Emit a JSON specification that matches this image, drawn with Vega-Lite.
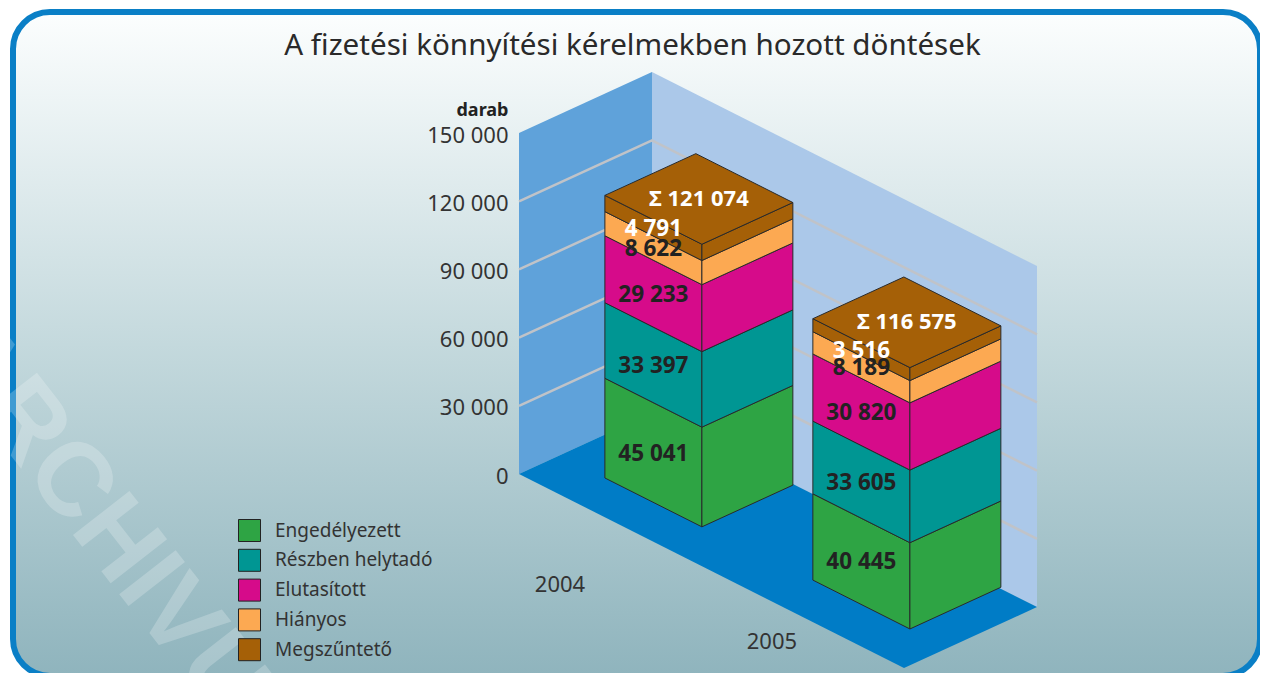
{
"$schema":"https://vega.github.io/schema/vega-lite/v6.json",
"width":1247,"height":664,"autosize":"none",
"padding":{"left":13,"top":12,"right":0,"bottom":0},
"background":"white",
"view":{"fill":{"gradient":"linear","x1":0,"y1":0,"x2":0,"y2":1,"stops":[{"offset":0,"color":"#fcfefe"},{"offset":0.5,"color":"#c4d9dd"},{"offset":1,"color":"#8fb4bd"}]},"stroke":"#0a7fc6","strokeWidth":6,"cornerRadius":37},
"title":{"text":"A fizetési könnyítési kérelmekben hozott döntések","font":"Noto Sans","fontSize":29.6,"fontWeight":"normal","color":"#2a2a2a","anchor":"middle","frame":"group","offset":-50,"dx":-4},
"datasets":{
"segments":[
{"year":2004,"status":"Engedélyezett","value":45041,"total":121074},
{"year":2004,"status":"Részben helytadó","value":33397,"total":121074},
{"year":2004,"status":"Elutasított","value":29233,"total":121074},
{"year":2004,"status":"Hiányos","value":8622,"total":121074},
{"year":2004,"status":"Megszűntető","value":4791,"total":121074},
{"year":2005,"status":"Engedélyezett","value":40445,"total":116575},
{"year":2005,"status":"Részben helytadó","value":33605,"total":116575},
{"year":2005,"status":"Elutasított","value":30820,"total":116575},
{"year":2005,"status":"Hiányos","value":8189,"total":116575},
{"year":2005,"status":"Megszűntető","value":3516,"total":116575}],
"panels":[{"panel":"left"},{"panel":"back"},{"panel":"floor"}],
"ticks":[{"tick":30000},{"tick":60000},{"tick":90000},{"tick":120000}],
"stamp":[{"word":"ARCHIVUM"}]
},
"data":{"name":"segments"},
"transform":[
{"calculate":"indexof(['Engedélyezett','Részben helytadó','Elutasított','Hiányos','Megszűntető'],datum.status)","as":"rank"},
{"calculate":"(datum.value*0.9+2730)*(datum.year==2004?1.014:0.97)","as":"shown"},
{"stack":"shown","groupby":["year"],"sort":[{"field":"rank","order":"ascending"}],"as":["v0","v1"]},
{"calculate":"datum.year==2004?0.117:0.65","as":"d0"},
{"calculate":"datum.year==2004?0.307:0.328","as":"w0"}
],
"encoding":{
"x":{"field":"px","type":"quantitative","axis":null,"scale":{"domain":[13,1260],"nice":false,"zero":false}},
"y":{"field":"py","type":"quantitative","scale":{"domain":[203280,-88880],"nice":false,"zero":false,"reverse":false,"range":[0,664]},
"axis":{"title":"darab","titleAngle":0,"titleAlign":"right","titleBaseline":"middle","titleX":0,"titleY":98,"titleFont":"Noto Sans","titleFontSize":18,"titleFontWeight":"bold","titleColor":"#222",
"values":[0,30000,60000,90000,120000,150000],"offset":-495,"domain":false,"ticks":false,"grid":false,"labelPadding":0,"labelOffset":2,"labelFont":"Noto Sans","labelFontSize":22,"labelColor":"#333","labelExpr":"replace(format(datum.value,','),',',' ')"}}
},
"layer":[
{"data":{"name":"panels"},"transform":[
{"calculate":"[0,1,2,3,4]","as":"corner"},{"flatten":["corner"]},
{"calculate":"{'left':[0,0,0,0,0],'back':[0,1,1,0,0],'floor':[0,0,1,1,0]}[datum.panel][datum.corner]","as":"d"},
{"calculate":"{'left':[0,1,1,0,0],'back':[1,1,1,1,1],'floor':[0,1,1,0,0]}[datum.panel][datum.corner]","as":"w"},
{"calculate":"{'left':[0,0,150000,150000,0],'back':[0,0,150000,150000,0],'floor':[0,0,0,0,0]}[datum.panel][datum.corner]","as":"v"},
{"calculate":"519+385*datum.d+133*datum.w","as":"px"},
{"calculate":"datum.v-440*(194*datum.d-61*datum.w)","as":"py"}],
"mark":{"type":"line","strokeWidth":0,"interpolate":"linear"},
"encoding":{"detail":{"field":"panel"},"order":{"field":"corner"},
"fill":{"condition":[{"test":"datum.panel=='left'","value":"#5fa2da"},{"test":"datum.panel=='back'","value":"#abc8e9"}],"value":"#007cc6"}}},
{"data":{"name":"ticks"},"transform":[
{"calculate":"[0,1,2]","as":"corner"},{"flatten":["corner"]},
{"calculate":"[0,0,1][datum.corner]","as":"d"},
{"calculate":"[0,1,1][datum.corner]","as":"w"},
{"calculate":"519+385*datum.d+133*datum.w","as":"px"},
{"calculate":"datum.tick-440*(194*datum.d-61*datum.w)","as":"py"}],
"mark":{"type":"line","stroke":"#c0c3c8","strokeWidth":2.5},
"encoding":{"detail":{"field":"tick"},"order":{"field":"corner"}}},
{"transform":[
{"calculate":"['L','R']","as":"face"},{"flatten":["face"]},
{"calculate":"[0,1]","as":"edge"},{"flatten":["edge"]},
{"calculate":"datum.face=='L'?datum.d0+0.252*datum.edge:datum.d0+0.252","as":"d"},
{"calculate":"datum.face=='L'?datum.w0:datum.w0+0.684*datum.edge","as":"w"},
{"calculate":"519+385*datum.d+133*datum.w","as":"px"},
{"calculate":"datum.v0-440*(194*datum.d-61*datum.w)","as":"py"},
{"calculate":"datum.v1-440*(194*datum.d-61*datum.w)","as":"py2"},
{"calculate":"datum.year+datum.status+datum.face","as":"key"}],
"mark":{"type":"area","stroke":"#2a2a2a","strokeWidth":1,"opacity":1},
"encoding":{"y2":{"field":"py2"},"detail":{"field":"key"},
"fill":{"field":"status","type":"nominal","scale":{"domain":["Engedélyezett","Részben helytadó","Elutasított","Hiányos","Megszűntető"],"range":["#2ea444","#009693","#d60b8a","#fca952","#a56007"]},
"legend":{"title":null,"orient":"none","legendX":225,"legendY":507,"symbolType":"square","symbolSize":484,"symbolStrokeColor":"#222","symbolStrokeWidth":1,"symbolOpacity":1,"rowPadding":2.8,"labelOffset":14,"labelFont":"Noto Sans","labelFontSize":19,"labelColor":"#333","padding":0}}}},
{"transform":[{"filter":"datum.rank==4"},
{"calculate":"[0,1,2,3,4]","as":"corner"},{"flatten":["corner"]},
{"calculate":"datum.d0+0.252*[0,0,1,1,0][datum.corner]","as":"d"},
{"calculate":"datum.w0+0.684*[0,1,1,0,0][datum.corner]","as":"w"},
{"calculate":"519+385*datum.d+133*datum.w","as":"px"},
{"calculate":"datum.v1-440*(194*datum.d-61*datum.w)","as":"py"}],
"mark":{"type":"line","fill":"#a56007","stroke":"#2a2a2a","strokeWidth":1},
"encoding":{"detail":{"field":"year"},"order":{"field":"corner"}}},
{"transform":[
{"calculate":"replace(format(datum.value,','),',',' ')","as":"lbl"},
{"calculate":"datum.d0+0.126","as":"d"},
{"calculate":"519+385*datum.d+133*datum.w0","as":"px"},
{"calculate":"(datum.v0+datum.v1)/2-440*(194*datum.d-61*datum.w0)","as":"py"}],
"mark":{"type":"text","font":"Noto Sans","fontSize":22.5,"fontWeight":"bold","align":"center","baseline":"middle","dy":1},
"encoding":{"text":{"field":"lbl"},"color":{"condition":{"test":"datum.rank==4","value":"white"},"value":"#222"}}},
{"transform":[{"filter":"datum.rank==4"},
{"calculate":"'Σ '+replace(format(datum.total,','),',',' ')","as":"lbl"},
{"calculate":"datum.d0+0.126","as":"d"},
{"calculate":"datum.w0+0.342","as":"w"},
{"calculate":"519+385*datum.d+133*datum.w","as":"px"},
{"calculate":"datum.v1-440*(194*datum.d-61*datum.w)","as":"py"}],
"mark":{"type":"text","font":"Noto Sans","fontSize":22,"fontWeight":"bold","align":"center","baseline":"middle","color":"white"},
"encoding":{"text":{"field":"lbl"}}},
{"transform":[{"filter":"datum.rank==0"},
{"calculate":"datum.year==2004?0.35:0.766","as":"d"},
{"calculate":"datum.year==2004?-0.705:-0.316","as":"w"},
{"calculate":"519+385*datum.d+133*datum.w","as":"px"},
{"calculate":"-440*(194*datum.d-61*datum.w)","as":"py"}],
"mark":{"type":"text","font":"Noto Sans","fontSize":22,"align":"center","baseline":"middle","color":"#333"},
"encoding":{"text":{"field":"year","type":"nominal"}}},
{"data":{"name":"stamp"},"transform":[
{"calculate":"-70","as":"px"},
{"calculate":"440*(474-352)","as":"py"}],
"mark":{"type":"text","font":"Liberation Sans","fontSize":104,"fontWeight":"bold","angle":52,"align":"left","baseline":"alphabetic","color":"white","opacity":0.22,"clip":false},
"encoding":{"text":{"field":"word"}}}
],
"config":{"style":{"cell":{"stroke":"#0a7fc6"}}}
}
